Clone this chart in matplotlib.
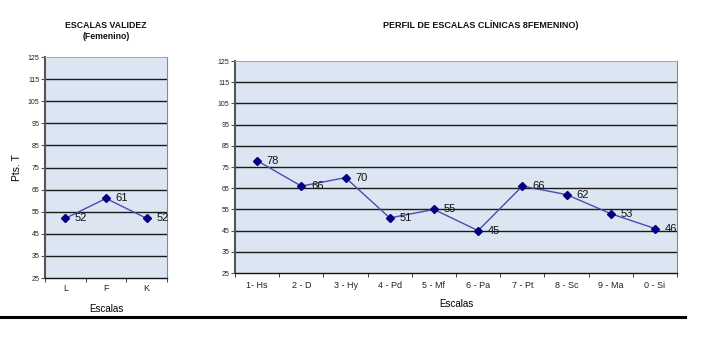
import numpy as np
import matplotlib
matplotlib.use("Agg")
import matplotlib.pyplot as plt
from matplotlib.lines import Line2D

plt.rcParams['font.family'] = ['Liberation Sans', 'DejaVu Sans']

# datos
validez_cats = ['L', 'F', 'K']
validez_vals = [52, 61, 52]
clin_cats = ['1- Hs', '2 - D', '3 - Hy', '4 - Pd', '5 - Mf', '6 - Pa',
             '7 - Pt', '8 - Sc', '9 - Ma', '0 - Si']
clin_vals = [78, 66, 70, 51, 55, 45, 66, 62, 53, 46]
y_ticks = [25, 35, 45, 55, 65, 75, 85, 95, 105, 115, 125]

bg = '#dce6f2'
line_col = '#4b4bb0'
mark_col = '#000080'


def estilo(ax, cats, vals, xpad):
    n = len(cats)
    x = np.arange(n)
    ax.set_facecolor(bg)
    ax.set_xlim(-0.5, n - 0.5)
    ax.set_ylim(25, 125)
    ax.set_yticks(y_ticks)
    ax.set_yticklabels([str(t) for t in y_ticks], fontsize=5, color='#222222')
    ax.set_xticks(x)
    ax.set_xticklabels(cats, fontsize=6.5, color='#222222')
    ax.tick_params(axis='x', length=0, pad=xpad)
    ax.set_xticks(np.arange(n + 1) - 0.5, minor=True)
    ax.tick_params(axis='x', which='minor', length=3, direction='out', color='#222222')
    ax.tick_params(axis='y', length=3, direction='out', pad=1, color='#555555')
    for t in y_ticks[1:-1]:
        ax.axhline(t, color='#1a1a1a', lw=1.0, zorder=1)
    ax.spines['left'].set_color('#555555')
    ax.spines['left'].set_linewidth(1.5)
    ax.spines['bottom'].set_color('#111111')
    ax.spines['bottom'].set_linewidth(1.0)
    ax.spines['top'].set_color('#aaaaaa')
    ax.spines['right'].set_color('#888888')
    ax.plot(x, vals, color=line_col, lw=1.0, marker='D', ms=4.5,
            mfc=mark_col, mec=mark_col, zorder=3)
    for xi, v in zip(x, vals):
        ax.annotate(str(v), (xi, v), xytext=(7, 0), textcoords='offset points',
                    fontsize=8, va='center', ha='left', color='#111111', zorder=4)


fig = plt.figure(figsize=(7.09, 3.43), dpi=100)

ax1 = fig.add_axes([0.0635, 0.1895, 0.172, 0.644])
estilo(ax1, validez_cats, validez_vals, 4)
ax1.set_xlabel('Escalas', fontsize=7, labelpad=8)
ax1.set_ylabel('Pts. T', fontsize=7.5, labelpad=4)
ax1.set_title('ESCALAS VALIDEZ\n(Femenino)', fontsize=6.3, fontweight='bold',
              pad=13, linespacing=1.3, color='#111111')

ax2 = fig.add_axes([0.3315, 0.204, 0.6234, 0.618])
estilo(ax2, clin_cats, clin_vals, 6)
ax2.set_xlabel('Escalas', fontsize=7, labelpad=6)
ax2.set_title('PERFIL DE ESCALAS CLÍNICAS 8FEMENINO)', fontsize=6.5,
              fontweight='bold', pad=24, x=0.555, color='#111111')

fig.add_artist(Line2D([0.0, 0.966], [1 - 317 / 343] * 2, color='black', lw=2.2,
                      transform=fig.transFigure))

fig.savefig('out.png', dpi=100)
